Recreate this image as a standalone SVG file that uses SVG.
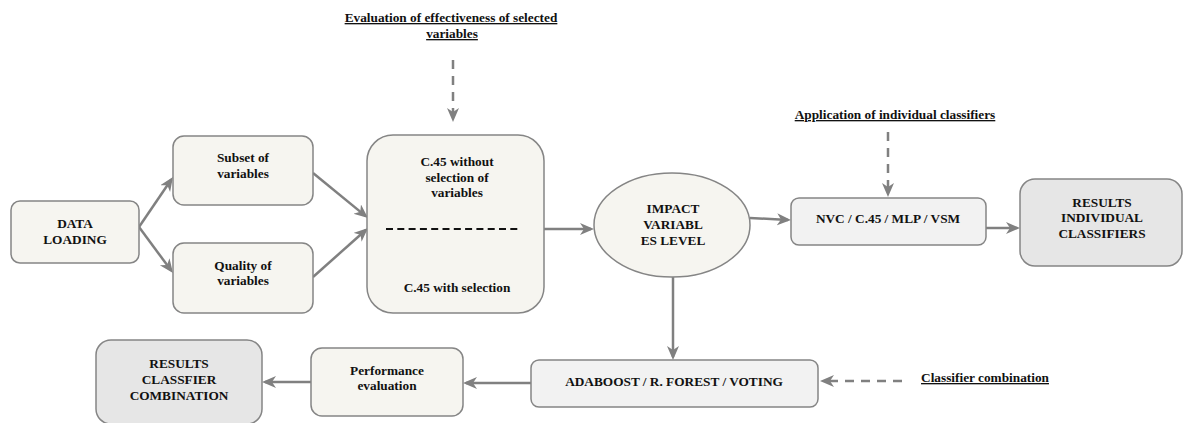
<svg xmlns="http://www.w3.org/2000/svg" width="1183" height="423" viewBox="0 0 1183 423">
<defs>
<style>
text{font-family:"Liberation Serif","Times New Roman",serif;font-weight:bold;font-size:13.3px;fill:#111;text-anchor:middle}
.lbl{text-decoration:underline}
.box{stroke:#858585;stroke-width:1.5}
.beige{fill:#f6f5f0}
.grey{fill:#f2f2f2}
.res{fill:#e6e6e6}
.con{stroke:#808080;stroke-width:2.5;fill:none;marker-end:url(#arr)}
.dash{stroke-dasharray:9 7}
</style>
<marker id="arr" markerUnits="userSpaceOnUse" markerWidth="16" markerHeight="14" refX="11" refY="6" orient="auto" viewBox="0 0 16 14">
<path d="M0,0 L14,6 L0,12 L4,6 z" fill="#808080"/>
</marker>
</defs>
<rect width="1183" height="423" fill="#fff"/>
<g id="connectors">
<line class="con" x1="139" y1="227" x2="171.3" y2="179.5"/>
<line class="con" x1="139" y1="227" x2="171.2" y2="270.6"/>
<line class="con" x1="313" y1="173" x2="365.7" y2="216.1"/>
<line class="con" x1="313" y1="277" x2="365.8" y2="230"/>
<line class="con" x1="544" y1="229" x2="591" y2="229"/>
<line class="con" x1="750" y1="218" x2="788" y2="219.9"/>
<line class="con" x1="986" y1="228" x2="1017" y2="228"/>
<line class="con" x1="673" y1="277" x2="673" y2="357"/>
<line class="con" x1="531" y1="383" x2="466" y2="383"/>
<line class="con" x1="311" y1="382" x2="265" y2="382"/>
<line class="con dash" x1="453" y1="60" x2="453" y2="119"/>
<line class="con dash" x1="888" y1="132" x2="888" y2="194"/>
<line class="con dash" x1="902" y1="381" x2="823" y2="381"/>
</g>
<g id="label-evaluation">
<text class="lbl" x="451" y="22">Evaluation of effectiveness of selected</text>
<text class="lbl" x="452" y="38">variables</text>
</g>
<g id="label-application">
<text class="lbl" x="895" y="119">Application of individual classifiers</text>
</g>
<g id="label-combination">
<text class="lbl" x="985" y="382">Classifier combination</text>
</g>
<g id="data-loading">
<rect class="box beige" x="11" y="201" width="128" height="62" rx="9"/>
<text x="75" y="227.5">DATA</text>
<text x="75" y="243.5">LOADING</text>
</g>
<g id="subset">
<rect class="box beige" x="173" y="136" width="140" height="69" rx="11"/>
<text x="243" y="162">Subset of</text>
<text x="243" y="178">variables</text>
</g>
<g id="quality">
<rect class="box beige" x="173" y="243" width="140" height="70" rx="11"/>
<text x="243" y="270">Quality of</text>
<text x="243" y="285">variables</text>
</g>
<g id="c45">
<rect class="box beige" x="367" y="135" width="177" height="178" rx="26"/>
<text x="457" y="166">C.45 without</text>
<text x="457" y="182">selection of</text>
<text x="457" y="197">variables</text>
<line x1="386" y1="229" x2="520" y2="229" stroke="#111" stroke-width="2" stroke-dasharray="7 4.3"/>
<text x="457" y="292">C.45 with selection</text>
</g>
<g id="impact">
<ellipse class="box beige" cx="672" cy="225" rx="78" ry="52"/>
<text x="673" y="212.5">IMPACT</text>
<text x="673" y="228.5">VARIABL</text>
<text x="673" y="244.5">ES LEVEL</text>
</g>
<g id="nvc">
<rect class="box grey" x="791" y="198" width="195" height="47" rx="8"/>
<text x="888" y="222.5">NVC / C.45 / MLP / VSM</text>
</g>
<g id="results-individual">
<rect class="box res" x="1020" y="179" width="162" height="87" rx="15"/>
<text x="1102" y="206.5">RESULTS</text>
<text x="1102" y="222">INDIVIDUAL</text>
<text x="1102" y="237.5">CLASSIFIERS</text>
</g>
<g id="adaboost">
<rect class="box grey" x="531" y="360" width="287" height="47" rx="8"/>
<text x="674" y="385.5">ADABOOST / R. FOREST / VOTING</text>
</g>
<g id="performance">
<rect class="box beige" x="311" y="348" width="152" height="68" rx="11"/>
<text x="387" y="374.5">Performance</text>
<text x="387" y="390">evaluation</text>
</g>
<g id="results-combination">
<rect class="box res" x="96" y="340" width="166" height="84" rx="15"/>
<text x="179" y="368">RESULTS</text>
<text x="179" y="384">CLASSFIER</text>
<text x="179" y="400">COMBINATION</text>
</g>
</svg>
